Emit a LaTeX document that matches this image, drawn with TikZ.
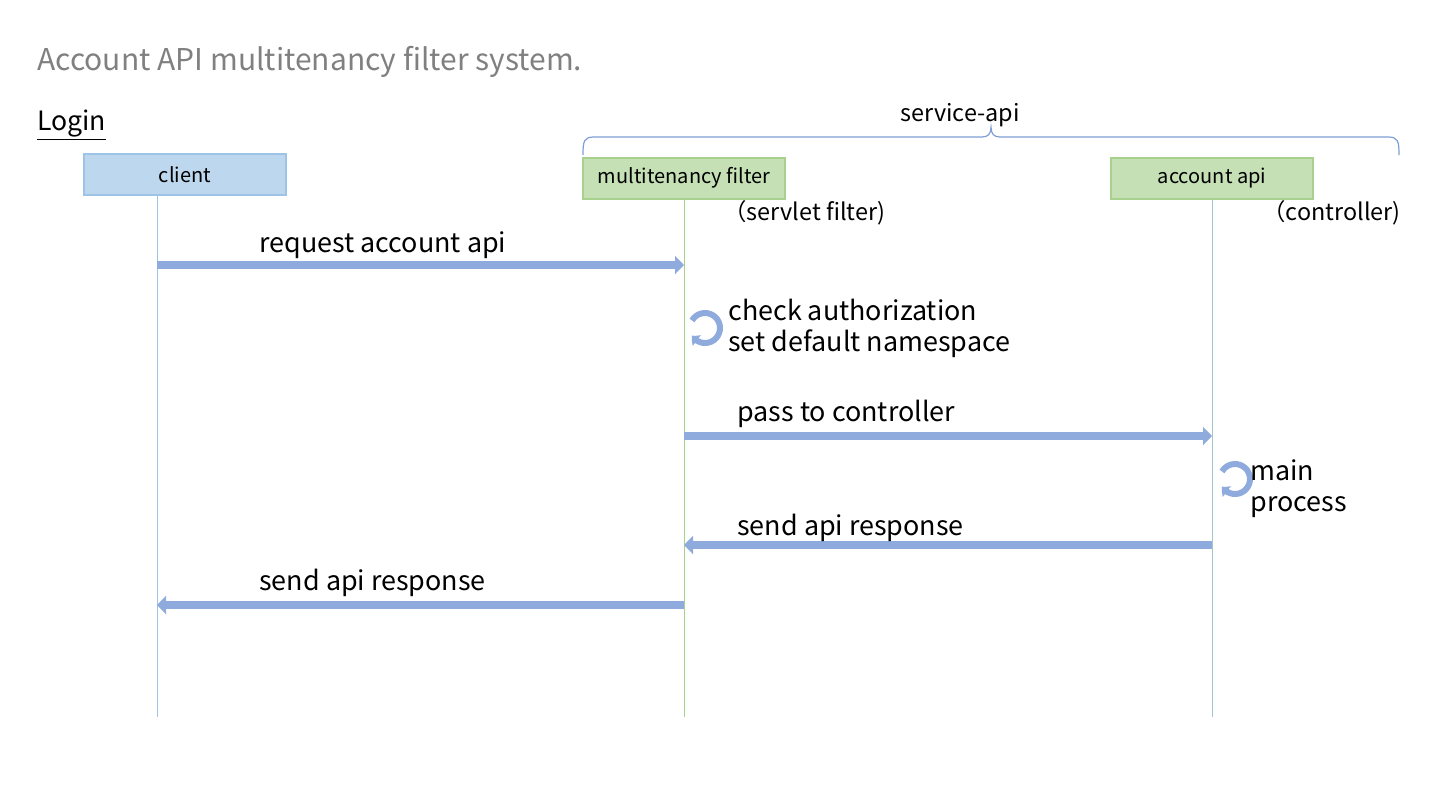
\documentclass[tikz,border=0pt]{standalone}
\usepackage{fontspec}
\setmainfont{Noto Sans CJK JP}
\usetikzlibrary{arrows.meta,bending,positioning}

\definecolor{msgblue}{HTML}{8FAADC}
\definecolor{boxblue}{HTML}{BDD7EE}
\definecolor{lineblue}{HTML}{9DC3E6}
\definecolor{boxgreen}{HTML}{C5E0B4}
\definecolor{linegreen}{HTML}{A9D18E}
\definecolor{titlegray}{HTML}{808080}
\definecolor{bracecol}{HTML}{7F9ED6}

\def\boxw{101pt}

\begin{document}
\begin{tikzpicture}[x=0.5pt,y=0.5pt]
    \tikzstyle{actor}=[draw, line width=1pt, minimum width=\boxw, minimum height=20.5pt, inner sep=0pt, font=\fontsize{10}{12}\selectfont]
    \tikzstyle{life}=[line width=0.5pt]
    \tikzstyle{msg}=[msgblue, line width=4pt, -{Triangle[length=4.5pt,width=9pt]}]
    \tikzstyle{selfloop}=[msgblue, line width=3pt, -{Triangle[length=3.5pt,width=6.5pt,bend]}]
    \tikzstyle{annot}=[anchor=base west, inner sep=0pt, font=\fontsize{13.45}{16}\selectfont]
    \tikzstyle{note}=[anchor=base west, inner sep=0pt, font=\fontsize{11.7}{14}\selectfont]

    \useasboundingbox (0,0) rectangle (1440,-810);

    %%% TITLE
    \node[annot, font=\fontsize{15}{18}\selectfont, text=titlegray] (title) at (37,-70) {Account API multitenancy filter system.};
    \node[annot, font=\fontsize{13.3}{16}\selectfont] (login) at (37,-130) {\underline{Login}};

    %%% DRAW THE ACTORS
    \node[actor, draw=lineblue, fill=boxblue] (client) at (185,-174.5) {client};
    \node[actor, draw=linegreen, fill=boxgreen] (filter) at (684,-178) {multitenancy filter};
    \node[actor, draw=linegreen, fill=boxgreen] (account) at (1212,-178) {account api};

    \node[note] (filter-role) at (723,-220) {（servlet filter)};
    \node[note] (account-role) at (1262,-220) {（controller)};

    % service-api brace
    \coordinate (brace-l) at (583,-155);
    \coordinate (brace-r) at (1399,-155);
    \draw[bracecol, line width=0.6pt] (brace-l) .. controls (583,-141) and (584,-137) .. (594,-137)
        -- (982,-137) .. controls (988,-137) and (991,-134) .. (991,-127)
        .. controls (991,-134) and (994,-137) .. (1000,-137)
        -- (1388,-137) .. controls (1398,-137) and (1399,-141) .. (brace-r);
    \node[note, anchor=base] (service) at (960,-121) {service-api};

    %%% DRAW THE LIFELINES
    \coordinate (client-l) at ([xshift=-14pt]client.south);
    \coordinate (bottom) at (0,-717);
    \draw[life, lineblue] (client-l) -- (client-l |- bottom);
    \draw[life, linegreen] (filter.south) -- (filter.south |- bottom);
    \draw[life, lineblue!70!linegreen] (account.south) -- (account.south |- bottom);

    %%% DRAW THE MESSAGES
    \foreach \name / \y in {r1/265, r2/436, r3/545, r4/605}
        \coordinate (\name) at (0,-\y);

    \draw[msg] (client-l |- r1) -- (filter.south |- r1);
    \node[annot] (m1) at (259,-252) {request account api};

    \coordinate (loop1) at (705,-328);
    \draw[selfloop] (loop1) ++(150:15) arc[start angle=150, end angle=-150, radius=15];
    \node[annot] (m2a) at (728,-320) {check authorization};
    \node[annot] (m2b) at (728,-351) {set default namespace};

    \draw[msg] (filter.south |- r2) -- (account.south |- r2);
    \node[annot] (m3) at (737,-421) {pass to controller};

    \coordinate (loop2) at (1235,-479);
    \draw[selfloop] (loop2) ++(150:15) arc[start angle=150, end angle=-150, radius=15];
    \node[annot] (m4a) at (1250,-480) {main};
    \node[annot] (m4b) at (1250,-511) {process};

    \draw[msg] (account.south |- r3) -- (filter.south |- r3);
    \node[annot] (m5) at (737,-535) {send api response};

    \draw[msg] (filter.south |- r4) -- (client-l |- r4);
    \node[annot] (m6) at (259,-590) {send api response};
\end{tikzpicture}
\end{document}
